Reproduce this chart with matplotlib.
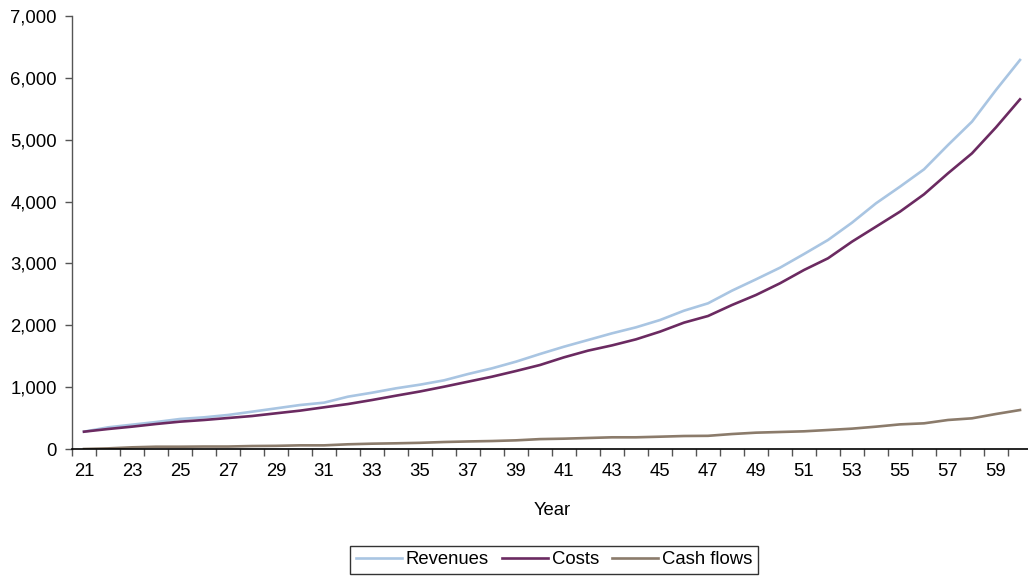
import numpy as np
import matplotlib.pyplot as plt
from matplotlib.ticker import FuncFormatter, MultipleLocator

plt.rcParams['font.family'] = ['Liberation Sans', 'DejaVu Sans']

years = list(range(21, 61))
revenues = [280, 350, 393, 436, 485, 512, 550, 603, 657, 711,
            749, 846, 910, 981, 1040, 1110, 1212, 1304, 1412, 1536,
            1654, 1762, 1870, 1967, 2085, 2236, 2355, 2560, 2743, 2931,
            3152, 3379, 3659, 3972, 4241, 4521, 4914, 5292, 5804, 6289]
costs = [280, 323, 361, 404, 442, 469, 501, 533, 577, 620,
         674, 727, 792, 862, 930, 1007, 1088, 1169, 1261, 1358,
         1482, 1590, 1675, 1773, 1897, 2043, 2150, 2328, 2490, 2679,
         2894, 3083, 3352, 3594, 3837, 4117, 4457, 4780, 5200, 5653]
cash_flows = [0, 10, 27, 37, 37, 40, 40, 48, 51, 59,
              59, 76, 86, 92, 100, 113, 122, 129, 140, 160,
              167, 178, 189, 189, 199, 210, 213, 242, 264, 275,
              286, 307, 329, 361, 398, 415, 469, 496, 566, 630]
labels = ['Revenues', 'Costs', 'Cash flows']
colors = ['#a9c5e2', '#6b2a61', '#8b7b6b']

fig = plt.figure(figsize=(10.28, 5.78), dpi=100)
ax = fig.add_axes([72/1028, 129/578, 960/1028, 433/578])

for vals, lab, col in zip([revenues, costs, cash_flows], labels, colors):
    ax.plot(years, vals, color=col, linewidth=1.9, label=lab)

fs = 13.3
ax.set_xlim(20.5, 60.5)
ax.set_ylim(0, 7000)
ax.yaxis.set_major_locator(MultipleLocator(1000))
ax.yaxis.set_major_formatter(FuncFormatter(lambda v, p: f'{int(v):,}'))
ax.set_xticks(range(21, 61, 2))
ax.set_xticks(np.arange(20.5, 60.6, 1), minor=True)
ax.tick_params(axis='x', which='major', length=0, pad=10, labelsize=fs)
ax.tick_params(axis='x', which='minor', length=5, width=1, color='#555555')
ax.tick_params(axis='y', length=5, width=1, color='#555555', pad=6, labelsize=fs)

ax.spines['top'].set_visible(False)
ax.spines['right'].set_visible(False)
ax.spines['left'].set_color('#555555')
ax.spines['bottom'].set_color('black')
ax.spines['left'].set_linewidth(1)
ax.spines['bottom'].set_linewidth(1.2)

ax.set_xlabel('Year', fontsize=fs, labelpad=16)

leg = fig.legend(loc='center', bbox_to_anchor=(554/1028, 18/578), ncol=3,
                 fontsize=fs, frameon=True, fancybox=False, handlelength=2.5,
                 handletextpad=0.2, columnspacing=0.7, borderpad=0.3)
leg.get_frame().set_edgecolor('black')
leg.get_frame().set_linewidth(1)

plt.savefig('out.png', dpi=100)
